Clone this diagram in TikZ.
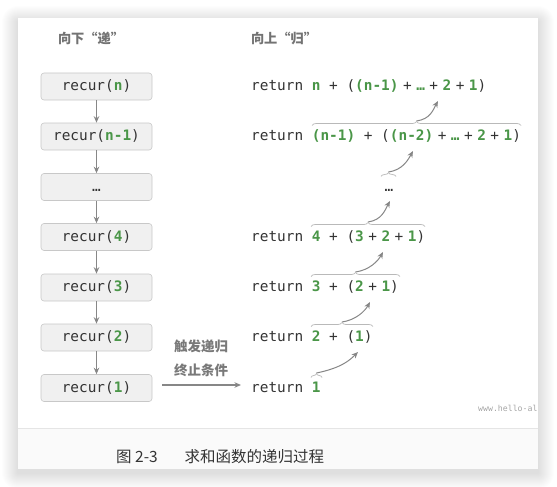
\documentclass[tikz,border=0pt]{standalone}
\usepackage{fontspec}
\setmonofont{DejaVu Sans Mono}
\newfontfamily\cjk{Noto Sans CJK SC}
\usetikzlibrary{arrows.meta,decorations.pathreplacing}
\definecolor{grn}{RGB}{74,150,72}
\definecolor{txt}{RGB}{51,51,51}
\definecolor{arr}{RGB}{135,135,135}
\definecolor{boxf}{RGB}{240,240,240}
\definecolor{boxd}{RGB}{200,200,200}
\definecolor{brc}{RGB}{185,185,185}
\definecolor{hdrc}{RGB}{115,115,115}
\newcommand\G[1]{\textcolor{grn}{\bfseries #1}}
\newcommand\gp{\hspace{4.5pt}}
\begin{document}
\begin{tikzpicture}[x=1pt,y=-1pt,
  recbox/.style={draw=boxd, fill=boxf, rounded corners=3pt, minimum width=111pt, minimum height=27pt,
     inner sep=0pt, text height=10.5pt, text depth=2.5pt,
     font=\fontsize{14.4}{16}\selectfont\ttfamily, text=txt, line width=0.6pt},
  ret/.style={anchor=base west, inner sep=0pt, font=\fontsize{14.4}{16}\selectfont\ttfamily, text=txt},
  flow/.style={draw=arr, line width=1.2pt, -{Stealth[length=6.5pt,width=5.5pt]}},
  brace/.style={draw=brc, line width=0.7pt, decorate, decoration={brace, amplitude=4pt}},
  hdr/.style={font=\cjk\bfseries\fontsize{13.2}{16}\selectfont, text=hdrc, inner sep=0pt},
  lbl/.style={font=\cjk\bfseries\fontsize{13.5}{16}\selectfont, text=arr!90!black, inner sep=0pt}]
\useasboundingbox (0,0) rectangle (557,487);
% card shadow
\foreach \i in {1,...,16}{
  \fill[black, opacity=0.0065, rounded corners=\i pt] (18-\i,18-\i+4) rectangle (538+\i,469+\i+4);
}
\fill[white] (18,18) rectangle (538,428);
\fill[black!2] (18,428) rectangle (538,469);
\draw[black!10, line width=0.6pt] (18,428) -- (538,428);

% headers
\node[hdr] (h1) at (91,38) {向下“递”};
\node[hdr] (h2) at (284,38) {向上“归”};

% recursion boxes
\node[recbox] (r1) at (96.5,86.5)  {recur(\G{n})};
\node[recbox] (r2) at (96.5,136.5) {recur(\G{n-1})};
\node[recbox] (r3) at (96.5,187)   {…};
\node[recbox] (r4) at (96.5,237)   {recur(\G{4})};
\node[recbox] (r5) at (96.5,287.5) {recur(\G{3})};
\node[recbox] (r6) at (96.5,337.5) {recur(\G{2})};
\node[recbox] (r7) at (96.5,388)   {recur(\G{1})};
\foreach \a/\b in {r1/r2,r2/r3,r3/r4,r4/r5,r5/r6,r6/r7}
  \draw[flow] (\a.south) -- (\b.north);

% return lines
\node[ret] (q6) at (251,90.5)  {return \G{n} + (\G{(n-1)}\gp+\gp\G{…}\gp+\gp\G{2}\gp+\gp\G{1})};
\node[ret] (q5) at (251,140.5) {return \G{(n-1)} + (\G{(n-2)}\gp+\gp\G{…}\gp+\gp\G{2}\gp+\gp\G{1})};
\node[ret] (q4) at (384.5,191) {…};
\node[ret] (q3) at (251,241)   {return \G{4} + (\G{3}\gp+\gp\G{2}\gp+\gp\G{1})};
\node[ret] (q2) at (251,291.5) {return \G{3} + (\G{2}\gp+\gp\G{1})};
\node[ret] (q1) at (251,341.5) {return \G{2} + (\G{1})};
\node[ret] (q0) at (251,392)   {return \G{1}};

% braces
\draw[brace] (312,125.5) -- (521,125.5);
\draw[brace] (381,176.5) -- (396,176.5);
\draw[brace] (311,226.5) -- (425,226.5);
\draw[brace] (311,276.5) -- (400,276.5);
\draw[brace] (311,326.5) -- (373,326.5);
\draw[brace] (311,377.5) -- (322,377.5);

% tips and targets
\coordinate (t5) at (416.5,121);
\coordinate (t4) at (388.5,172);
\coordinate (t3) at (368,222);
\coordinate (t2) at (355.5,272);
\coordinate (t1) at (342,322);
\coordinate (t0) at (316.5,373);
\coordinate (e6) at (438,101);
\coordinate (e5) at (413,151);
\coordinate (e4) at (390,201);
\coordinate (e3) at (383,252);
\coordinate (e2) at (370,302);
\coordinate (e1) at (358,352);
\foreach \s/\e in {t5/e6,t4/e5,t3/e4,t2/e3,t1/e2}
  \draw[flow, line width=1pt] (\s) .. controls +(14,-2) and +(-5,9) .. (\e);
\draw[flow, line width=1pt] (t0) .. controls +(24,-5) and +(-9,9) .. (e1);

% trigger arrow
\coordinate (ts) at (162,385);
\coordinate (te) at (241,385);
\draw[flow] (ts) -- (te);
\node[lbl] (l1) at (201,346) {触发递归};
\node[lbl] (l2) at (201,370) {终止条件};

% watermark and caption
\node[anchor=base west, inner sep=0pt, font=\fontsize{8.2}{9}\selectfont\ttfamily, text=black!35] (wm) at (478,411) {www.hello-al};
\node[anchor=base west, inner sep=0pt, font=\cjk\fontsize{15.5}{18}\selectfont, text=txt] (cap) at (116,462.8) {图 2-3\hspace{27pt}求和函数的递归过程};
\end{tikzpicture}
\end{document}
